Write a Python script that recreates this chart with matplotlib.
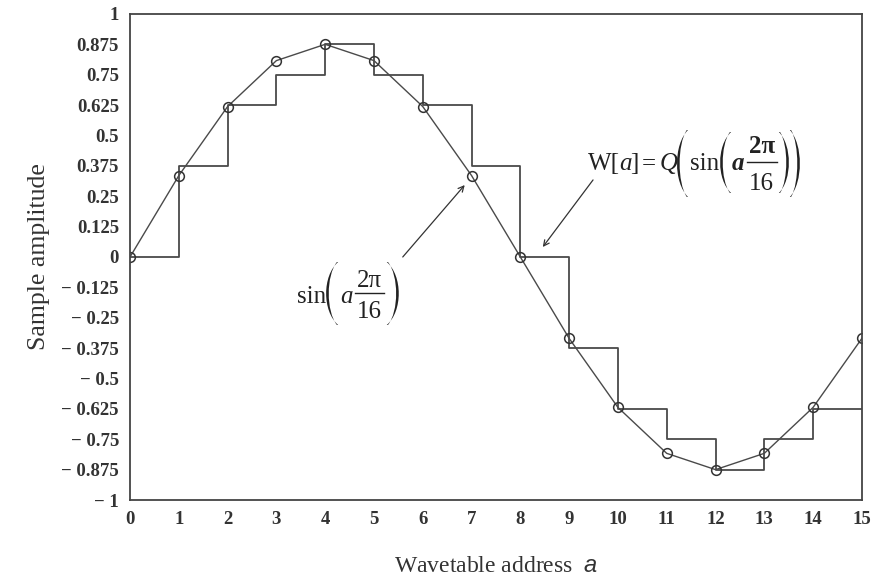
import matplotlib
matplotlib.use("Agg")
import matplotlib.pyplot as plt
from matplotlib.path import Path
from matplotlib.patches import PathPatch
from matplotlib.lines import Line2D
from matplotlib.transforms import Affine2D

# Data
addresses = list(range(16))
sine_values = [0, 0.335, 0.619, 0.808, 0.875, 0.808, 0.619, 0.335,
               0, -0.335, -0.619, -0.808, -0.875, -0.808, -0.619, -0.335]
quant_values = [0, 0.375, 0.625, 0.75, 0.875, 0.75, 0.625, 0.375,
                0, -0.375, -0.625, -0.75, -0.875, -0.75, -0.625, -0.625]
y_ticks = [1, 0.875, 0.75, 0.625, 0.5, 0.375, 0.25, 0.125, 0,
           -0.125, -0.25, -0.375, -0.5, -0.625, -0.75, -0.875, -1]
y_tick_labels = ["1", "0.875", "0.75", "0.625", "0.5", "0.375", "0.25", "0.125", "0",
                 "\u2212 0.125", "\u2212 0.25", "\u2212 0.375", "\u2212 0.5", "\u2212 0.625",
                 "\u2212 0.75", "\u2212 0.875", "\u2212 1"]
x_tick_labels = [str(a) for a in addresses]

plt.rcParams['mathtext.fontset'] = 'custom'
plt.rcParams['mathtext.rm'] = 'Liberation Serif'
plt.rcParams['mathtext.it'] = 'Liberation Serif:italic'
plt.rcParams['mathtext.bf'] = 'Liberation Serif:bold'
plt.rcParams['mathtext.sf'] = 'Liberation Sans:italic'
plt.rcParams['font.family'] = ['Liberation Serif', 'DejaVu Serif']

W, H = 875, 581
fig = plt.figure(figsize=(W / 100, H / 100), dpi=100)
ax = fig.add_axes([0.1486, 0.1394, 0.8364, 0.8366])

col = '#4a4a4a'
ax.step(addresses, quant_values, where='post', color=col, lw=1.3)
ax.plot(addresses, sine_values, color=col, lw=1.0, marker='o', markersize=7,
        markerfacecolor='none', markeredgecolor='#333333', markeredgewidth=1.1)

ax.set_xlim(0, 15)
ax.set_ylim(-1, 1)
ax.set_xticks(addresses)
ax.set_xticklabels(x_tick_labels, fontsize=13.5, fontweight='bold', color='#333333')
ax.set_yticks(y_ticks)
ax.set_yticklabels(y_tick_labels, fontsize=13.5, fontweight='bold', color='#333333')
ax.tick_params(length=0, pad=8)
for s in ax.spines.values():
    s.set_color('#444444')
    s.set_linewidth(1.3)

ax.set_ylabel('Sample amplitude', fontsize=18.5, color='#333333', labelpad=8)
ax.set_xlabel('Wavetable address  $\\mathsf{a}$', fontsize=17, color='#333333', labelpad=20)

# arrows
ax.annotate('', xy=(6.86, 0.296), xytext=(5.59, 0.0),
            arrowprops=dict(arrowstyle='->', color='#333333', lw=0.9, shrinkA=0, shrinkB=0))
ax.annotate('', xy=(8.46, 0.041), xytext=(9.49, 0.317),
            arrowprops=dict(arrowstyle='->', color='#333333', lw=0.9, shrinkA=0, shrinkB=0))

# ---- formula helpers (figure pixel coordinates, y measured from top) ----
tcol = '#222222'
px = Affine2D().scale(1 / W, 1 / H) + fig.transFigure
renderer = fig.canvas.get_renderer()


def txt(x, y, s, size=18, ha='left', style='normal', weight='normal', measure_only=False):
    t = fig.text(x / W, 1 - y / H, s, ha=ha, va='baseline', fontsize=size,
                 family='Liberation Serif', style=style, weight=weight, color=tcol)
    w = t.get_window_extent(renderer).width
    if measure_only:
        t.remove()
    return w


def paren(side, x, width, y0, y1, thick=2.6, end=1.2):
    # crescent-shaped tall parenthesis (cubic curves); returns its width
    top, bot = H - y0, H - y1
    h = top - bot
    if side == '(':
        xe, xm = x + width, x
        xi = xm + thick
        e = end
    else:
        xe, xm = x, x + width
        xi = xm - thick
        e = -end
    xe_in = xe - e
    c_out = (xm - 0.25 * xe) / 0.75
    c_in = (xi - 0.25 * xe_in) / 0.75
    k = 0.22 * h
    verts = [(xe, top), (c_out, top - k), (c_out, bot + k), (xe, bot),
             (xe_in, bot), (c_in, bot + k), (c_in, top - k), (xe_in, top),
             (xe, top)]
    codes = [Path.MOVETO, Path.CURVE4, Path.CURVE4, Path.CURVE4,
             Path.LINETO, Path.CURVE4, Path.CURVE4, Path.CURVE4,
             Path.CLOSEPOLY]
    fig.add_artist(PathPatch(Path(verts, codes), transform=px, fc=tcol, ec='none'))
    return width


def frac(x, num, den, num_base, den_base, line_y, weight='normal', size=18):
    wn = txt(x, num_base, num, size=size, weight=weight, measure_only=True)
    wd = txt(x, den_base, den, size=size, measure_only=True)
    w = max(wn, wd) + 4
    cx = x + w / 2
    txt(cx, num_base, num, size=size, ha='center', weight=weight)
    txt(cx, den_base, den, size=size, ha='center')
    fig.add_artist(Line2D([x, x + w], [H - line_y, H - line_y], transform=px,
                          color=tcol, lw=1.0))
    return w


# sin(a 2π/16)
x = 297
x += txt(x, 303, 'sin')
x += paren('(', x, 12, 262, 325) + 2
x += txt(x, 303, 'a', style='italic') + 2
x += frac(x, '2\u03c0', '16', 287, 318, 293) + 3
paren(')', x, 12, 262, 325)

# W[a] = Q(sin(a 2π/16))
x = 588
x += txt(x, 170, 'W[') - 1
x += txt(x, 170, 'a', style='italic') - 1
x += txt(x, 170, ']') + 3
x += txt(x, 170, '=') + 4
x += txt(x, 170, 'Q', style='italic') - 1
x += paren('(', x, 11, 130, 197) + 2
x += txt(x, 170, 'sin') + 1
x += paren('(', x, 11, 132, 193) + 1
x += txt(x, 170, 'a', style='italic', weight='bold') + 2
x += frac(x, '2\u03c0', '16', 153, 190, 162, weight='bold') + 2
x += paren(')', x, 10, 132, 193) + 1
paren(')', x, 10, 130, 197)

fig.savefig('out.png', dpi=100, facecolor='white')
